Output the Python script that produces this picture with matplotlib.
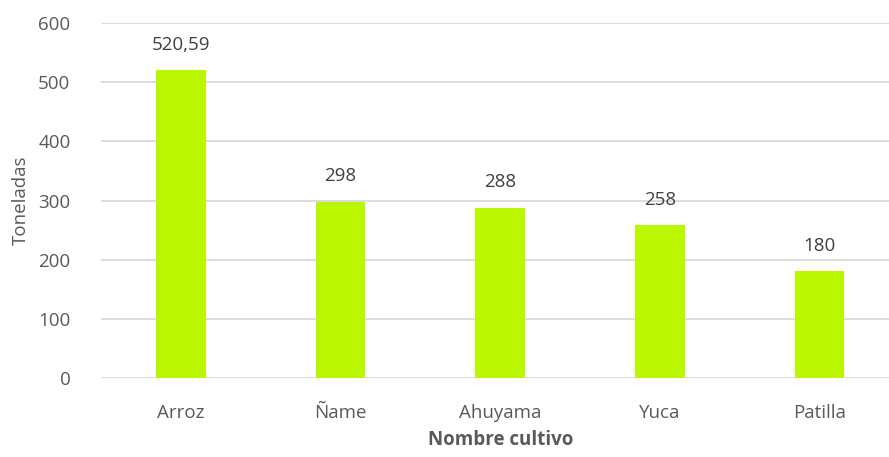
import matplotlib
matplotlib.use('Agg')
import matplotlib.pyplot as plt

cultivos = ['Arroz', 'Ñame', 'Ahuyama', 'Yuca', 'Patilla']
toneladas = [520.59, 298, 288, 258, 180]
etiquetas = ['520,59', '298', '288', '258', '180']
y_ticks = [0, 100, 200, 300, 400, 500, 600]

BAR = '#BBF700'
TXT = '#595959'
GRID = '#D9D9D9'

plt.rcParams['font.family'] = ['Open Sans', 'DejaVu Sans']

fig = plt.figure(figsize=(8.89, 4.57), dpi=100)
ax = fig.add_axes([101/889, 1 - 377.7/457, 798.5/889, 354.4/457])

x = range(len(cultivos))
bars = ax.bar(x, toneladas, width=0.31, color=BAR, zorder=3)

for b, lab in zip(bars, etiquetas):
    ax.annotate(lab, (b.get_x() + b.get_width()/2, b.get_height()),
                xytext=(0, 12), textcoords='offset points',
                ha='center', va='bottom', fontsize=13.5, color='#404040')

ax.set_xlim(-0.5, len(cultivos) - 0.5)
ax.set_ylim(0, 600)
ax.set_yticks(y_ticks)
ax.set_xticks(list(x))
ax.set_xticklabels(cultivos)
ax.tick_params(axis='both', length=0, labelsize=13.5, labelcolor=TXT)
ax.tick_params(axis='y', pad=22)
ax.tick_params(axis='x', pad=19)
ax.yaxis.grid(True, color=GRID, lw=1.3, zorder=0)
for s in ax.spines.values():
    s.set_visible(False)

ax.set_ylabel('Toneladas', fontsize=13.5, color=TXT, labelpad=6)
ax.set_xlabel('Nombre cultivo', fontsize=13.5, color=TXT, fontweight='bold', labelpad=6)

fig.savefig('out.png', dpi=100, facecolor='white')
